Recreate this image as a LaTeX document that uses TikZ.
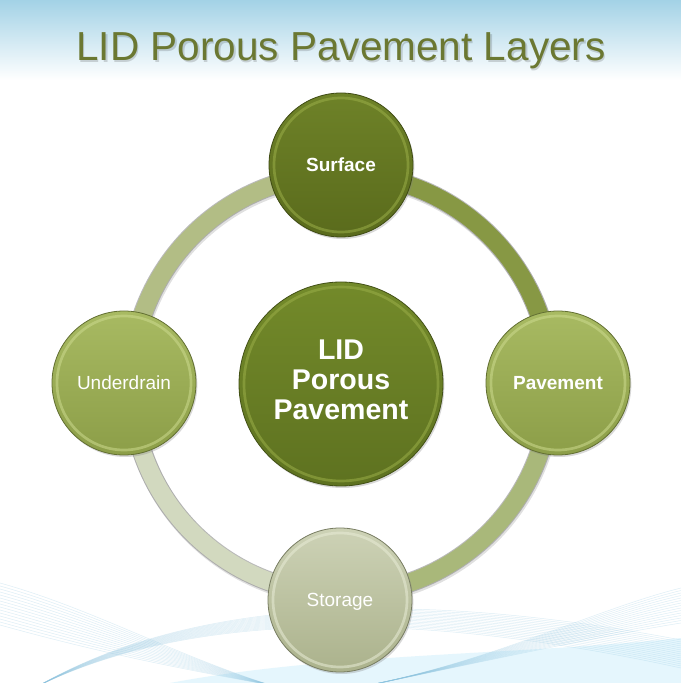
\documentclass[tikz,border=0pt]{standalone}
\usepackage{fontspec}
\setmainfont{Liberation Sans}
\usepackage{tikz}
\usetikzlibrary{shadows}

\definecolor{titlegreen}{HTML}{6B7832}
\definecolor{skyblue}{HTML}{A3D2E6}
\definecolor{wavecol}{HTML}{8CC4E0}
\definecolor{surfTop}{HTML}{6E8228}
\definecolor{surfBot}{HTML}{5A6B1C}
\definecolor{surfRim}{HTML}{9AAE48}
\definecolor{hubTop}{HTML}{738A2A}
\definecolor{hubBot}{HTML}{5E7220}
\definecolor{paveTop}{HTML}{A8BA62}
\definecolor{paveBot}{HTML}{8C9E48}
\definecolor{paveRim}{HTML}{CCDA8E}
\definecolor{storTop}{HTML}{CDD2B6}
\definecolor{storBot}{HTML}{ABB28C}
\definecolor{storRim}{HTML}{E8ECD6}
\definecolor{segNE}{HTML}{879844}
\definecolor{segSE}{HTML}{A9B87A}
\definecolor{segSW}{HTML}{D2D9BF}
\definecolor{segNW}{HTML}{B2BD85}

\begin{document}
\begin{tikzpicture}[x=0.75pt, y=0.75pt,
	layer/.style={circle, minimum size=108pt, inner sep=0pt, text=white, text depth=0pt,
		font=\fontsize{14.25}{16}\selectfont, line width=0.6pt,
		drop shadow={shadow xshift=1pt, shadow yshift=-1.5pt, opacity=0.3}},
	rim/.style={line width=2pt, draw opacity=0.55},
	ringedge/.style={line width=15pt, draw=black!45, draw opacity=0.6},
	ringfill/.style={line width=13.5pt},
	wave/.style={draw=wavecol, line width=0.35pt, draw opacity=0.3}]
	\useasboundingbox (0,0) rectangle (681,683);
	% backdrop
	\fill[white] (0,0) rectangle (681,683);
	\shade[top color=skyblue, bottom color=white] (0,603) rectangle (681,683);
	\begin{scope}
		\clip (0,0) rectangle (681,683);
		\fill[cyan!18, opacity=0.55] (170,0) .. controls (330,30) and (520,28) .. (681,45) -- (681,0) -- cycle;
		\foreach \i in {0,...,14} {
			\draw[wave] (0,100-\i*3) .. controls (90,75-\i*3) and (170,30-\i) .. (270,-2);
			\draw[wave] (40,-2) .. controls (200,75+\i) and (430,70+\i*1.5) .. (681,15+\i*2);
			\draw[wave] (681,95-\i*2.5) .. controls (600,75-\i*2) and (500,25) .. (370,-2);
		}
	\end{scope}

	% nodes
	\node[layer, minimum size=153pt, top color=hubTop, bottom color=hubBot, draw=hubBot!70!black,
		font=\bfseries\fontsize{21.4}{22.5}\selectfont, align=center, text depth=6pt] (hub) at (341,299) {LID\\Porous\\Pavement};

	% ring between the layers
	\foreach \a/\col in {0/segNE, 270/segSE, 180/segSW, 90/segNW} {
		\draw[line width=15pt, black, opacity=0.12] ([shift={(\a:210)}]hub.center) ++(1,-2) arc[start angle=\a, delta angle=90, radius=210];
		\draw[ringedge] ([shift={(\a:210)}]hub.center) arc[start angle=\a, delta angle=90, radius=210];
		\draw[ringfill, \col] ([shift={(\a:210)}]hub.center) arc[start angle=\a, delta angle=90, radius=210];
	}

	\node[layer, top color=surfTop, bottom color=surfBot, draw=surfBot!70!black, font=\bfseries\fontsize{14.25}{16}\selectfont] (surface) at (341,518) {Surface};
	\node[layer, top color=paveTop, bottom color=paveBot, draw=paveBot!70!black, font=\bfseries\fontsize{14.25}{16}\selectfont] (pavement) at (558,300) {Pavement};
	\node[layer, top color=storTop, bottom color=storBot, draw=storBot!70!black] (storage) at (340,83) {Storage};
	\node[layer, top color=paveTop, bottom color=paveBot, draw=paveBot!70!black] (underdrain) at (124,300) {Underdrain};

	\draw[rim, surfRim] (surface.center) circle[radius=67];
	\draw[rim, paveRim] (pavement.center) circle[radius=67];
	\draw[rim, storRim] (storage.center) circle[radius=67];
	\draw[rim, paveRim] (underdrain.center) circle[radius=67];
	\draw[rim, surfRim] (hub.center) circle[radius=97];

	% title
	\node[anchor=base, text=black, opacity=0.15, font=\fontsize{30.4}{34}\selectfont] at (342.5,620.5) {LID Porous Pavement Layers};
	\node[anchor=base, text=titlegreen, font=\fontsize{30.4}{34}\selectfont] (title) at (341,622) {LID Porous Pavement Layers};
\end{tikzpicture}
\end{document}
